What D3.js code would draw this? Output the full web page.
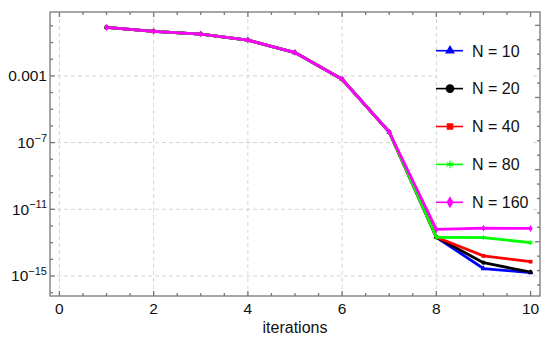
<!DOCTYPE html>
<html>
<head>
<meta charset="utf-8">
<script src="https://cdn.jsdelivr.net/npm/d3@7"></script>
<style>
  body { margin: 0; background: #fff; }
  text { font-family: "Liberation Sans", Arial, sans-serif; fill: #111; }
</style>
</head>
<body>
<svg id="chart"></svg>
<script>
var iterations = [1, 2, 3, 4, 5, 6, 7, 8, 9, 10];

var seriesNames = ["N = 10", "N = 20", "N = 40", "N = 80", "N = 160"];
var seriesColors = ["#0000ff", "#000000", "#ff0000", "#00ff00", "#ff00ff"];

var errN10  = [0.8, 0.47, 0.32, 0.14, 0.025, 6.3e-4, 4.3e-7, 2.1e-13, 2.8e-15, 1.6e-15];
var errN20  = [0.8, 0.47, 0.32, 0.14, 0.025, 6.3e-4, 4.3e-7, 2.1e-13, 6.3e-15, 1.7e-15];
var errN40  = [0.8, 0.47, 0.32, 0.14, 0.025, 6.3e-4, 4.3e-7, 2.1e-13, 1.6e-14, 7.2e-15];
var errN80  = [0.8, 0.47, 0.32, 0.14, 0.025, 6.3e-4, 4.3e-7, 2.1e-13, 2.0e-13, 1.0e-13];
var errN160 = [0.8, 0.47, 0.32, 0.14, 0.025, 6.3e-4, 4.3e-7, 6.2e-13, 7.4e-13, 7.1e-13];

var xTicks = [0, 2, 4, 6, 8, 10];
var yTickExps = [-3, -7, -11, -15];

var width = 550, height = 344;
var margin = { top: 12, right: 10, bottom: 48, left: 50 };

var svg = d3.select("#chart")
  .attr("width", width)
  .attr("height", height);

var x = d3.scaleLinear()
  .domain([-0.2, 10.2])
  .range([margin.left, width - margin.right]);
var y = d3.scaleLog()
  .domain([Math.pow(10, 0.83), Math.pow(10, -16.2)])
  .range([margin.top, height - margin.bottom]);
// frame ticks on the right side follow their own spacing in the original
var yRight = d3.scaleLog()
  .domain([Math.pow(10, 0.925), Math.pow(10, -18.76)])
  .range([margin.top, height - margin.bottom]);

var x0 = x.range()[0], x1 = x.range()[1];
var y0 = y.range()[0], y1 = y.range()[1];

// grid
var grid = svg.append("g")
  .attr("stroke", "#d4d4d4")
  .attr("stroke-width", 1)
  .attr("stroke-dasharray", "4,3");
grid.selectAll("line.gx")
    .data(xTicks.filter(function(d) { return d < 10; }))
  .enter().append("line")
    .attr("x1", function(d) { return x(d); })
    .attr("x2", function(d) { return x(d); })
    .attr("y1", y0).attr("y2", y1);
grid.selectAll("line.gy")
    .data(yTickExps)
  .enter().append("line")
    .attr("x1", x0).attr("x2", x1)
    .attr("y1", function(d) { return y(Math.pow(10, d)); })
    .attr("y2", function(d) { return y(Math.pow(10, d)); });

// frame and ticks
var frame = svg.append("g").attr("stroke", "#777").attr("stroke-width", 1.3);
frame.append("rect")
  .attr("x", x0).attr("y", y0)
  .attr("width", x1 - x0).attr("height", y1 - y0)
  .attr("fill", "none");

var xMinor = d3.range(0, 10.01, 0.5);
frame.selectAll("line.xb")
    .data(xMinor)
  .enter().append("line")
    .attr("x1", function(d) { return x(d); })
    .attr("x2", function(d) { return x(d); })
    .attr("y1", y1)
    .attr("y2", function(d) { return y1 - (d % 2 === 0 ? 5 : 3); });
frame.selectAll("line.xt")
    .data(xMinor)
  .enter().append("line")
    .attr("x1", function(d) { return x(d); })
    .attr("x2", function(d) { return x(d); })
    .attr("y1", y0)
    .attr("y2", function(d) { return y0 + (d % 2 === 0 ? 5 : 3); });

var yExps = d3.range(0, -17, -1);
frame.selectAll("line.yl")
    .data(yExps)
  .enter().append("line")
    .attr("x1", x0)
    .attr("x2", function(d) { return x0 + (yTickExps.indexOf(d) >= 0 ? 5 : 3); })
    .attr("y1", function(d) { return y(Math.pow(10, d)); })
    .attr("y2", function(d) { return y(Math.pow(10, d)); });

var yRightExps = d3.range(0, -19, -1);
frame.selectAll("line.yr")
    .data(yRightExps)
  .enter().append("line")
    .attr("x1", x1)
    .attr("x2", function(d) { return x1 - (d % 5 === 0 ? 5 : 3); })
    .attr("y1", function(d) { return yRight(Math.pow(10, d)); })
    .attr("y2", function(d) { return yRight(Math.pow(10, d)); });

// tick labels
svg.selectAll("text.xl")
    .data(xTicks)
  .enter().append("text")
    .attr("x", function(d) { return x(d); })
    .attr("y", y1 + 17.5)
    .attr("text-anchor", "middle")
    .style("font-size", "15.5px")
    .text(function(d) { return d; });

var yl = svg.selectAll("text.yl")
    .data(yTickExps)
  .enter().append("text")
    .attr("x", x0 - 3)
    .attr("y", function(d) { return y(Math.pow(10, d)) + 5.5; })
    .attr("text-anchor", "end")
    .style("font-size", "15.5px");
yl.each(function(d) {
  var t = d3.select(this);
  if (d === -3) { t.text("0.001"); return; }
  t.append("tspan").text("10");
  t.append("tspan")
    .attr("dy", -6.5)
    .style("font-size", "11px")
    .text("\u2212" + Math.abs(d));
});

svg.append("text")
  .attr("x", (x0 + x1) / 2)
  .attr("y", 333)
  .attr("text-anchor", "middle")
  .style("font-size", "16px")
  .text("iterations");

// series
var series = [errN10, errN20, errN40, errN80, errN160].map(function(vals, i) {
  return {
    name: seriesNames[i],
    color: seriesColors[i],
    points: vals.map(function(v, j) { return { it: iterations[j], err: v }; })
  };
});
var symbols = [d3.symbolTriangle, d3.symbolCircle, d3.symbolSquare, d3.symbolAsterisk, d3.symbolDiamond];

var line = d3.line()
  .x(function(d) { return x(d.it); })
  .y(function(d) { return y(d.err); });

var plot = svg.append("g");
series.forEach(function(s, i) {
  plot.append("path")
    .datum(s.points)
    .attr("fill", "none")
    .attr("stroke", s.color)
    .attr("stroke-width", 2.8)
    .attr("stroke-linejoin", "round")
    .attr("d", line);
  plot.selectAll(null)
      .data(s.points)
    .enter().append("path")
      .attr("transform", function(d) { return "translate(" + x(d.it) + "," + y(d.err) + ")"; })
      .attr("d", d3.symbol().type(symbols[i]).size(14))
      .attr("fill", s.color)
      .attr("stroke", i === 3 ? s.color : "none")
      .attr("stroke-width", 1);
});

// legend
var legendTop = 50.7, legendStep = 37.9;
var legend = svg.append("g");
legend.append("rect")
  .attr("x", 437).attr("y", 32)
  .attr("width", 93).attr("height", 184)
  .attr("fill", "#fff");
var rows = legend.selectAll("g.row")
    .data(series)
  .enter().append("g")
    .attr("transform", function(d, i) { return "translate(0," + (legendTop + i * legendStep) + ")"; });
rows.append("line")
  .attr("x1", 436).attr("x2", 463)
  .attr("stroke", function(d) { return d.color; })
  .attr("stroke-width", 1.6);
rows.append("path")
  .attr("transform", "translate(450,0)")
  .attr("d", function(d, i) { return d3.symbol().type(symbols[i]).size(i === 1 ? 60 : 42)(); })
  .attr("fill", function(d) { return d.color; })
  .attr("stroke", function(d, i) { return i === 3 ? d.color : "none"; })
  .attr("stroke-width", 1.2);
rows.append("text")
  .attr("x", 472)
  .attr("y", 5.8)
  .style("font-size", "16px")
  .text(function(d) { return d.name; });
</script>
</body>
</html>
